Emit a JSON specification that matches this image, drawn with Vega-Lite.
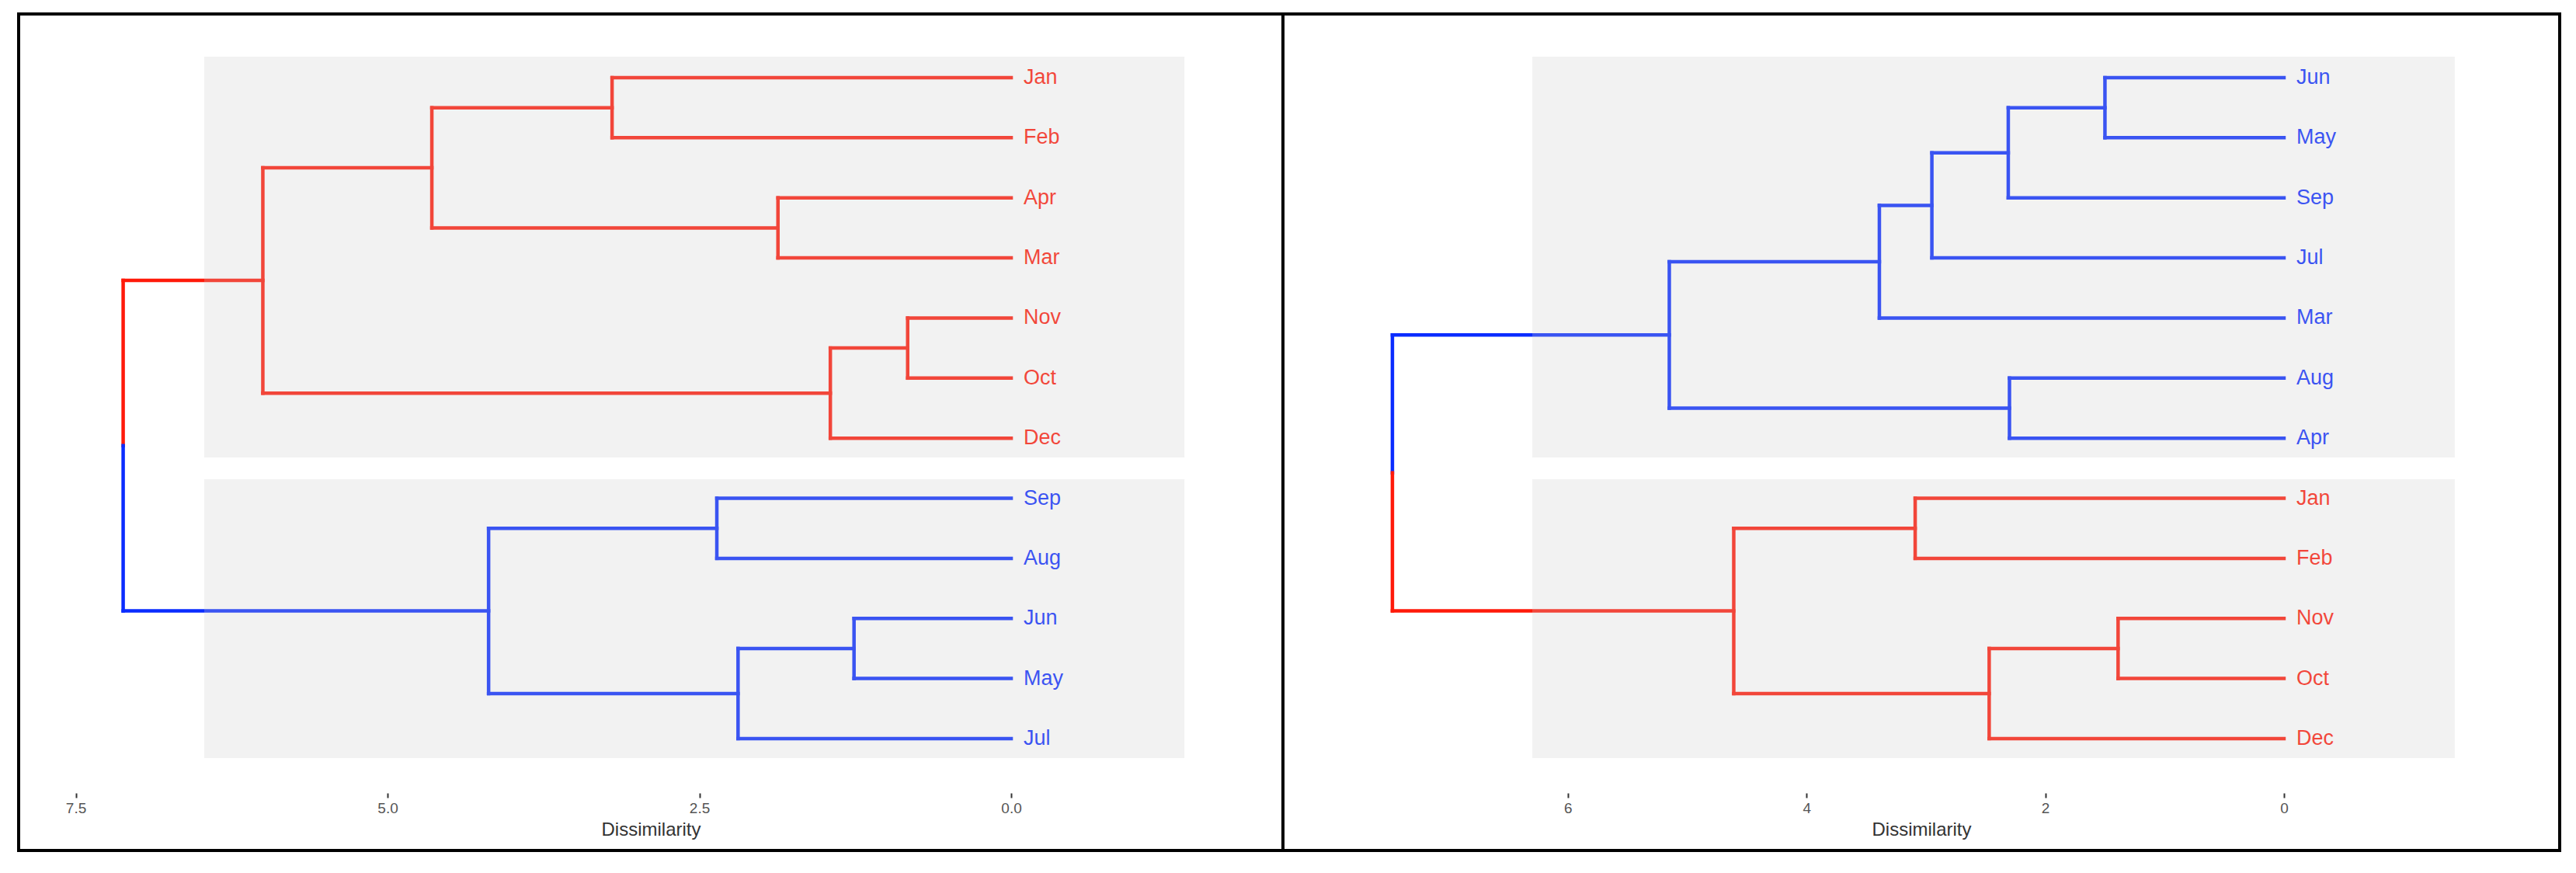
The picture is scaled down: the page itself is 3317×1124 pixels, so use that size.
{
  "$schema": "https://vega.github.io/schema/vega-lite/v6.json",
  "background": "white",
  "padding": {"left": 22, "top": 16, "right": 0, "bottom": 0},
  "autosize": {"type": "pad"},
  "bounds": "flush",
  "spacing": 0,
  "config": {
    "view": {"stroke": "black", "strokeWidth": 4, "fill": "white"},
    "font": "Liberation Sans",
    "axisX": {
      "offset": -74, "domain": false, "grid": false,
      "tickSize": 6, "tickWidth": 2, "tickColor": "#333333",
      "labelFontSize": 19, "labelColor": "#555555", "labelPadding": 4, "labelFont": "Liberation Sans",
      "titleFontSize": 24, "titleColor": "#333333", "titleFontWeight": "normal", "titleFont": "Liberation Sans",
      "titleY": 54, "titleBaseline": "alphabetic"
    }
  },
  "datasets": {
    "segL": [
      {"h1":3.2,"h2":3.2,"v1":0,"v2":1,"c":"red"},
      {"h1":3.2,"h2":0,"v1":0,"v2":0,"c":"red"},
      {"h1":3.2,"h2":0,"v1":1,"v2":1,"c":"red"},
      {"h1":1.87,"h2":1.87,"v1":2,"v2":3,"c":"red"},
      {"h1":1.87,"h2":0,"v1":2,"v2":2,"c":"red"},
      {"h1":1.87,"h2":0,"v1":3,"v2":3,"c":"red"},
      {"h1":4.645,"h2":4.645,"v1":0.5,"v2":2.5,"c":"red"},
      {"h1":4.645,"h2":3.2,"v1":0.5,"v2":0.5,"c":"red"},
      {"h1":4.645,"h2":1.87,"v1":2.5,"v2":2.5,"c":"red"},
      {"h1":0.83,"h2":0.83,"v1":4,"v2":5,"c":"red"},
      {"h1":0.83,"h2":0,"v1":4,"v2":4,"c":"red"},
      {"h1":0.83,"h2":0,"v1":5,"v2":5,"c":"red"},
      {"h1":1.45,"h2":1.45,"v1":4.5,"v2":6,"c":"red"},
      {"h1":1.45,"h2":0.83,"v1":4.5,"v2":4.5,"c":"red"},
      {"h1":1.45,"h2":0,"v1":6,"v2":6,"c":"red"},
      {"h1":6.0,"h2":6.0,"v1":1.5,"v2":5.25,"c":"red"},
      {"h1":6.0,"h2":4.645,"v1":1.5,"v2":1.5,"c":"red"},
      {"h1":6.0,"h2":1.45,"v1":5.25,"v2":5.25,"c":"red"},
      {"h1":7.12,"h2":6.0,"v1":3.375,"v2":3.375,"c":"red"},
      {"h1":7.12,"h2":7.12,"v1":3.375,"v2":6.125,"c":"red"},
      {"h1":7.12,"h2":7.12,"v1":6.125,"v2":8.875,"c":"blue"},
      {"h1":7.12,"h2":4.19,"v1":8.875,"v2":8.875,"c":"blue"},
      {"h1":4.19,"h2":4.19,"v1":7.5,"v2":10.25,"c":"blue"},
      {"h1":4.19,"h2":2.36,"v1":7.5,"v2":7.5,"c":"blue"},
      {"h1":4.19,"h2":2.19,"v1":10.25,"v2":10.25,"c":"blue"},
      {"h1":2.36,"h2":2.36,"v1":7,"v2":8,"c":"blue"},
      {"h1":2.36,"h2":0,"v1":7,"v2":7,"c":"blue"},
      {"h1":2.36,"h2":0,"v1":8,"v2":8,"c":"blue"},
      {"h1":2.19,"h2":2.19,"v1":9.5,"v2":11,"c":"blue"},
      {"h1":2.19,"h2":1.26,"v1":9.5,"v2":9.5,"c":"blue"},
      {"h1":2.19,"h2":0,"v1":11,"v2":11,"c":"blue"},
      {"h1":1.26,"h2":1.26,"v1":9,"v2":10,"c":"blue"},
      {"h1":1.26,"h2":0,"v1":9,"v2":9,"c":"blue"},
      {"h1":1.26,"h2":0,"v1":10,"v2":10,"c":"blue"}
    ],
    "segR": [
      {"h1":1.5,"h2":1.5,"v1":0,"v2":1,"c":"blue"},
      {"h1":1.5,"h2":0,"v1":0,"v2":0,"c":"blue"},
      {"h1":1.5,"h2":0,"v1":1,"v2":1,"c":"blue"},
      {"h1":2.31,"h2":2.31,"v1":0.5,"v2":2,"c":"blue"},
      {"h1":2.31,"h2":1.5,"v1":0.5,"v2":0.5,"c":"blue"},
      {"h1":2.31,"h2":0,"v1":2,"v2":2,"c":"blue"},
      {"h1":2.95,"h2":2.95,"v1":1.25,"v2":3,"c":"blue"},
      {"h1":2.95,"h2":2.31,"v1":1.25,"v2":1.25,"c":"blue"},
      {"h1":2.95,"h2":0,"v1":3,"v2":3,"c":"blue"},
      {"h1":3.39,"h2":3.39,"v1":2.125,"v2":4,"c":"blue"},
      {"h1":3.39,"h2":2.95,"v1":2.125,"v2":2.125,"c":"blue"},
      {"h1":3.39,"h2":0,"v1":4,"v2":4,"c":"blue"},
      {"h1":2.3,"h2":2.3,"v1":5,"v2":6,"c":"blue"},
      {"h1":2.3,"h2":0,"v1":5,"v2":5,"c":"blue"},
      {"h1":2.3,"h2":0,"v1":6,"v2":6,"c":"blue"},
      {"h1":5.15,"h2":5.15,"v1":3.0625,"v2":5.5,"c":"blue"},
      {"h1":5.15,"h2":3.39,"v1":3.0625,"v2":3.0625,"c":"blue"},
      {"h1":5.15,"h2":2.3,"v1":5.5,"v2":5.5,"c":"blue"},
      {"h1":7.47,"h2":5.15,"v1":4.28125,"v2":4.28125,"c":"blue"},
      {"h1":7.47,"h2":7.47,"v1":4.28125,"v2":6.578,"c":"blue"},
      {"h1":7.47,"h2":7.47,"v1":6.578,"v2":8.875,"c":"red"},
      {"h1":7.47,"h2":4.61,"v1":8.875,"v2":8.875,"c":"red"},
      {"h1":4.61,"h2":4.61,"v1":7.5,"v2":10.25,"c":"red"},
      {"h1":4.61,"h2":3.09,"v1":7.5,"v2":7.5,"c":"red"},
      {"h1":4.61,"h2":2.47,"v1":10.25,"v2":10.25,"c":"red"},
      {"h1":3.09,"h2":3.09,"v1":7,"v2":8,"c":"red"},
      {"h1":3.09,"h2":0,"v1":7,"v2":7,"c":"red"},
      {"h1":3.09,"h2":0,"v1":8,"v2":8,"c":"red"},
      {"h1":2.47,"h2":2.47,"v1":9.5,"v2":11,"c":"red"},
      {"h1":2.47,"h2":1.39,"v1":9.5,"v2":9.5,"c":"red"},
      {"h1":2.47,"h2":0,"v1":11,"v2":11,"c":"red"},
      {"h1":1.39,"h2":1.39,"v1":9,"v2":10,"c":"red"},
      {"h1":1.39,"h2":0,"v1":9,"v2":9,"c":"red"},
      {"h1":1.39,"h2":0,"v1":10,"v2":10,"c":"red"}
    ],
    "labL": [
      {"m":"Jan","i":0,"c":"red"},{"m":"Feb","i":1,"c":"red"},{"m":"Apr","i":2,"c":"red"},
      {"m":"Mar","i":3,"c":"red"},{"m":"Nov","i":4,"c":"red"},{"m":"Oct","i":5,"c":"red"},
      {"m":"Dec","i":6,"c":"red"},{"m":"Sep","i":7,"c":"blue"},{"m":"Aug","i":8,"c":"blue"},
      {"m":"Jun","i":9,"c":"blue"},{"m":"May","i":10,"c":"blue"},{"m":"Jul","i":11,"c":"blue"}
    ],
    "labR": [
      {"m":"Jun","i":0,"c":"blue"},{"m":"May","i":1,"c":"blue"},{"m":"Sep","i":2,"c":"blue"},
      {"m":"Jul","i":3,"c":"blue"},{"m":"Mar","i":4,"c":"blue"},{"m":"Aug","i":5,"c":"blue"},
      {"m":"Apr","i":6,"c":"blue"},{"m":"Jan","i":7,"c":"red"},{"m":"Feb","i":8,"c":"red"},
      {"m":"Nov","i":9,"c":"red"},{"m":"Oct","i":10,"c":"red"},{"m":"Dec","i":11,"c":"red"}
    ],
    "boxL": [
      {"h1":6.47,"h2":-1.389,"v1":-0.349,"v2":6.321},
      {"h1":6.47,"h2":-1.389,"v1":6.683,"v2":11.324}
    ],
    "boxR": [
      {"h1":6.298,"h2":-1.431,"v1":-0.349,"v2":6.321},
      {"h1":6.298,"h2":-1.431,"v1":6.683,"v2":11.324}
    ]
  },
  "resolve": {"scale": {"x": "independent", "y": "independent"}},
  "hconcat": [
    {
      "width": 1628,
      "height": 1077,
      "layer": [
        {
          "data": {"name": "segL"},
          "mark": {"type": "rule", "strokeWidth": 4.5, "strokeCap": "square"},
          "encoding": {
            "x": {"field": "h1", "type": "quantitative",
                  "scale": {"domain": [-2.179, 7.958], "reverse": true, "nice": false, "zero": false},
                  "axis": {"values": [7.5, 5, 2.5, 0], "format": ".1f", "title": "Dissimilarity"}},
            "x2": {"field": "h2"},
            "y": {"field": "v1", "type": "quantitative",
                  "scale": {"domain": [-1.06, 12.862], "reverse": true, "nice": false, "zero": false},
                  "axis": null},
            "y2": {"field": "v2"},
            "color": {"field": "c", "type": "nominal",
                      "scale": {"domain": ["red", "blue"], "range": ["#ff1a0a", "#0a2cff"]},
                      "legend": null}
          }
        },
        {
          "data": {"name": "labL"},
          "mark": {"type": "text", "align": "left", "baseline": "middle", "dx": 16, "fontSize": 27, "font": "Liberation Sans"},
          "encoding": {
            "x": {"datum": 0, "type": "quantitative"},
            "y": {"field": "i", "type": "quantitative"},
            "text": {"field": "m"},
            "color": {"field": "c", "type": "nominal", "legend": null}
          }
        },
        {
          "data": {"name": "boxL"},
          "mark": {"type": "rect", "fill": "#cccccc", "fillOpacity": 0.25},
          "encoding": {
            "x": {"field": "h1", "type": "quantitative"},
            "x2": {"field": "h2"},
            "y": {"field": "v1", "type": "quantitative"},
            "y2": {"field": "v2"}
          }
        }
      ]
    },
    {
      "width": 1644,
      "height": 1077,
      "layer": [
        {
          "data": {"name": "segR"},
          "mark": {"type": "rule", "strokeWidth": 4.5, "strokeCap": "square"},
          "encoding": {
            "x": {"field": "h1", "type": "quantitative",
                  "scale": {"domain": [-2.31, 8.387], "reverse": true, "nice": false, "zero": false},
                  "axis": {"values": [6, 4, 2, 0], "format": "d", "title": "Dissimilarity"}},
            "x2": {"field": "h2"},
            "y": {"field": "v1", "type": "quantitative",
                  "scale": {"domain": [-1.06, 12.862], "reverse": true, "nice": false, "zero": false},
                  "axis": null},
            "y2": {"field": "v2"},
            "color": {"field": "c", "type": "nominal",
                      "scale": {"domain": ["red", "blue"], "range": ["#ff1a0a", "#0a2cff"]},
                      "legend": null}
          }
        },
        {
          "data": {"name": "labR"},
          "mark": {"type": "text", "align": "left", "baseline": "middle", "dx": 16, "fontSize": 27, "font": "Liberation Sans"},
          "encoding": {
            "x": {"datum": 0, "type": "quantitative"},
            "y": {"field": "i", "type": "quantitative"},
            "text": {"field": "m"},
            "color": {"field": "c", "type": "nominal", "legend": null}
          }
        },
        {
          "data": {"name": "boxR"},
          "mark": {"type": "rect", "fill": "#cccccc", "fillOpacity": 0.25},
          "encoding": {
            "x": {"field": "h1", "type": "quantitative"},
            "x2": {"field": "h2"},
            "y": {"field": "v1", "type": "quantitative"},
            "y2": {"field": "v2"}
          }
        }
      ]
    }
  ]
}
